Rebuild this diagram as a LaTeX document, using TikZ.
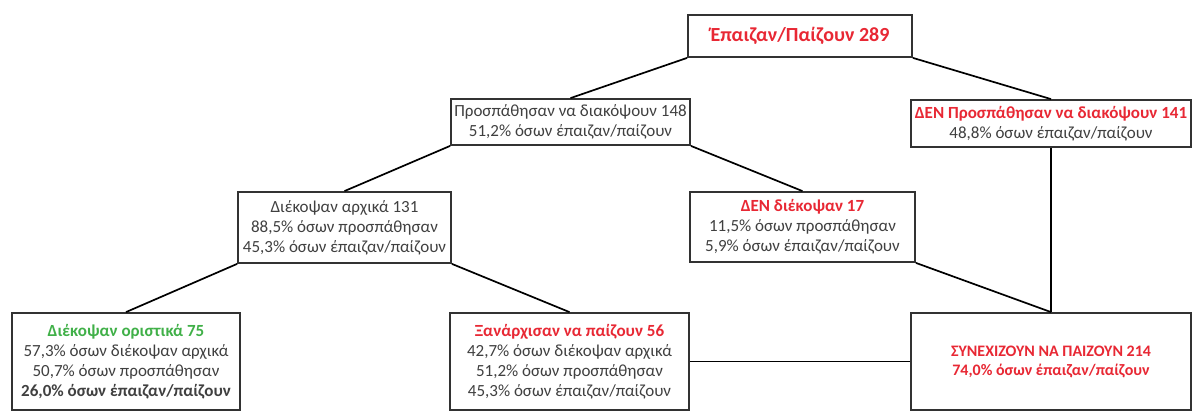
\documentclass[tikz,border=0pt]{standalone}
\usepackage{fontspec}
\setmainfont{Carlito}
\definecolor{numred}{RGB}{232,40,52}
\definecolor{numgreen}{RGB}{64,176,72}
\definecolor{txtgray}{RGB}{64,64,64}
\definecolor{boxgray}{RGB}{50,50,50}
\tikzset{
  box/.style={draw=boxgray, line width=1.8pt, fill=white, inner sep=0pt,
    align=center, text=txtgray, font=\fontsize{17}{20}\selectfont},
  wire/.style={draw=black, line width=1.7pt}
}
\newcommand{\redhead}[1]{\textcolor{numred}{\bfseries #1}}

\begin{document}
\begin{tikzpicture}[x=1pt,y=-1pt]
\useasboundingbox (0,0) rectangle (1192,411);
\clip (0,0) rectangle (1192,411);
% Drawing boxes
% Level 0: all players
\node[box, minimum width=224pt, minimum height=42pt] (played) at (800,36)
  {\fontsize{20}{22}\selectfont\redhead{Έπαιζαν/Παίζουν 289}};
% Level 1: tried / did not try
\node[box, minimum width=239pt, minimum height=46pt] (tried) at (570.5,122)
  {Προσπάθησαν να διακόψουν 148\\51,2\% όσων έπαιζαν/παίζουν};
\node[box, minimum width=280pt, minimum height=47pt] (nottried) at (1051,123.5)
  {\redhead{ΔΕΝ Προσπάθησαν να διακόψουν 141}\\48,8\% όσων έπαιζαν/παίζουν};
% Level 2: quit at first / did not quit
\node[box, minimum width=213pt, minimum height=71pt] (quit) at (344.5,227.5)
  {Διέκοψαν αρχικά 131\\88,5\% όσων προσπάθησαν\\45,3\% όσων έπαιζαν/παίζουν};
\node[box, minimum width=225pt, minimum height=70pt] (notquit) at (802.5,227)
  {\redhead{ΔΕΝ διέκοψαν 17}\\11,5\% όσων προσπάθησαν\\5,9\% όσων έπαιζαν/παίζουν};
% Level 3: outcome
\node[box, minimum width=228pt, minimum height=97pt] (final) at (126,361.5)
  {\textcolor{numgreen}{\bfseries Διέκοψαν οριστικά 75}\\57,3\% όσων διέκοψαν αρχικά\\50,7\% όσων προσπάθησαν\\\textbf{26,0\% όσων έπαιζαν/παίζουν}};
\node[box, minimum width=239pt, minimum height=97pt] (restart) at (569.5,361.5)
  {\redhead{Ξανάρχισαν να παίζουν 56}\\42,7\% όσων διέκοψαν αρχικά\\51,2\% όσων προσπάθησαν\\45,3\% όσων έπαιζαν/παίζουν};
\node[box, minimum width=280pt, minimum height=97pt, font=\fontsize{16}{19}\selectfont] (cont) at (1051,361.5)
  {\redhead{ΣΥΝΕΧΙΖΟΥΝ ΝΑ ΠΑΙΖΟΥΝ 214}\\\redhead{74,0\% όσων έπαιζαν/παίζουν}};
% Done with boxes; drawing connectors
\coordinate (join) at (nottried.south |- cont.north);
\draw[wire] (played.south west) -- (tried.north);
\draw[wire] (played.south east) -- (nottried.north);
\draw[wire] (tried.south west) -- (quit.north);
\draw[wire] (tried.south east) -- (notquit.north);
\draw[wire] (quit.south west) -- (final.north);
\draw[wire] (quit.south east) -- (restart.north);
\draw[wire] (notquit.south east) -- (join);
\draw[wire] (nottried.south) -- (join);
\draw[wire] (restart.east) -- (cont.west);
% Done with connectors
\end{tikzpicture}
\end{document}
